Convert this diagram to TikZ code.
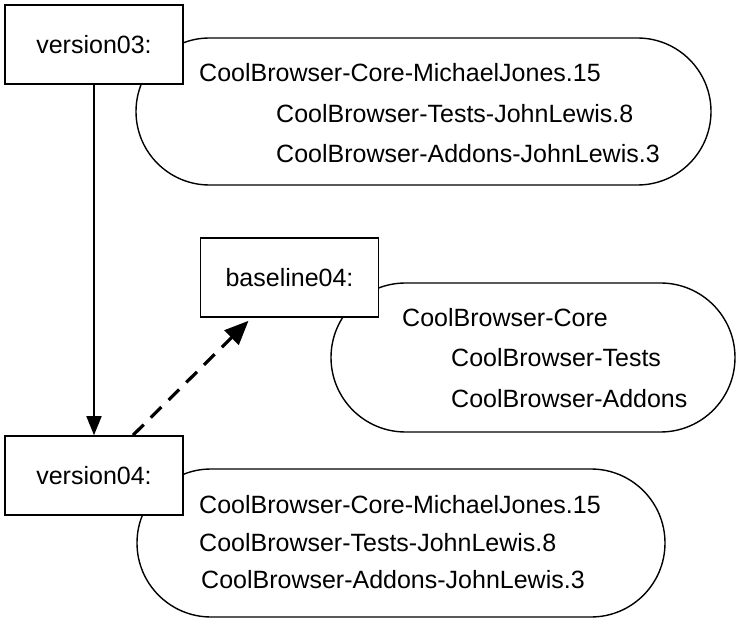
\documentclass[tikz,border=0pt]{standalone}
\usepackage{fontspec}
\setmainfont{Liberation Sans}
\usetikzlibrary{arrows.meta,shapes.misc}
\tikzset{
  snapbox/.style={draw, line width=1.6pt, fill=white, minimum width=178, minimum height=79, inner sep=0pt},
  pkgset/.style={draw, line width=1.4pt, rounded rectangle, inner sep=0pt},
  pkgline/.style={anchor=base west, inner sep=0pt},
  nextarrow/.style={line width=1.8pt, -{Triangle[length=19pt,width=15pt]}},
  basearrow/.style={line width=3.2pt, dash pattern=on 15pt off 10pt, -{Triangle[length=24pt,width=20pt]}}
}
\begin{document}
\begin{tikzpicture}[x=1pt, y=-1pt, font=\fontsize{25}{28}\selectfont]
                \useasboundingbox (0,0) rectangle (737,620);
                % package sets behind the boxes
                \node[pkgset, minimum width=575, minimum height=147] (v03set) at (423.5,111.5) {};
                \node[pkgset, minimum width=404, minimum height=149] (b04set) at (533,357.5) {};
                \node[pkgset, minimum width=528, minimum height=148] (v04set) at (401,543) {};
                \node[pkgline] (v03core) at (199,82) {CoolBrowser-Core-MichaelJones.15};
                \node[pkgline] (v03tests) at (276,123) {CoolBrowser-Tests-JohnLewis.8};
                \node[pkgline] (v03addons) at (276,163) {CoolBrowser-Addons-JohnLewis.3};
                \node[pkgline] (b04core) at (402,327) {CoolBrowser-Core};
                \node[pkgline] (b04tests) at (451,367) {CoolBrowser-Tests};
                \node[pkgline] (b04addons) at (451,408) {CoolBrowser-Addons};
                \node[pkgline] (v04core) at (199,513) {CoolBrowser-Core-MichaelJones.15};
                \node[pkgline] (v04tests) at (199,551) {CoolBrowser-Tests-JohnLewis.8};
                \node[pkgline] (v04addons) at (201,588) {CoolBrowser-Addons-JohnLewis.3};
                % snapshots
                \node[snapbox] (v03) at (94,44.5) {version03:};
                \node[snapbox] (b04) at (289.5,277.5) {baseline04:};
                \node[snapbox] (v04) at (94,475.5) {version04:};
                \draw[nextarrow] (v03) -- (v04);
                \draw[basearrow] ([xshift=39pt]v04.north) -- ([xshift=-41pt, yshift=-3pt]b04.south);
            \end{tikzpicture}
\end{document}
